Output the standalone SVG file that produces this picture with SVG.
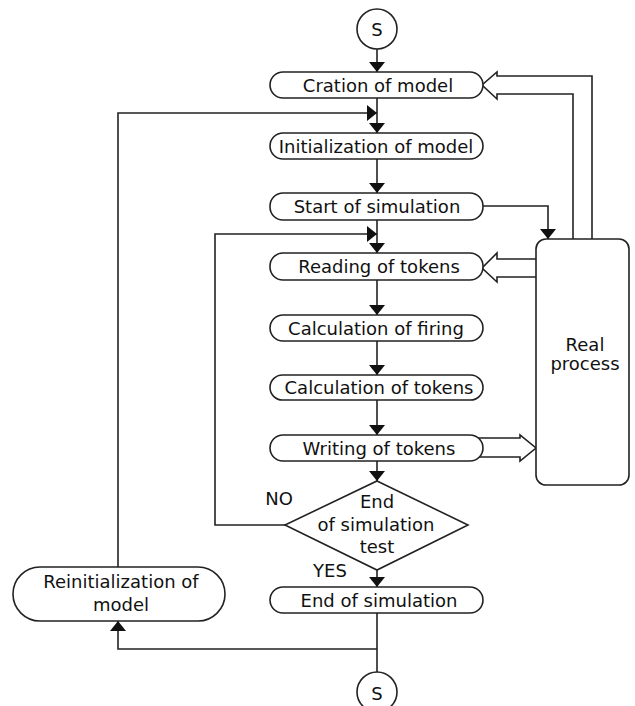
<svg xmlns="http://www.w3.org/2000/svg" width="635" height="706" viewBox="0 0 635 706">
<style>
.ln{fill:none;stroke:#222;stroke-width:1.6}
.bx{fill:#fff;stroke:#222;stroke-width:1.6}
.t{font-family:"DejaVu Sans",sans-serif;font-size:18px;fill:#111;text-anchor:middle}
</style>
<defs>
<marker id="ah" markerUnits="userSpaceOnUse" viewBox="0 0 10 16" refX="10" refY="8" markerWidth="10" markerHeight="16" orient="auto">
<path d="M0,0 L10,8 L0,16 z" fill="#111"/>
</marker>
</defs>
<rect width="635" height="706" fill="#fff"/>
<g id="connectors">
<path class="ln" d="M377,49 V72" marker-end="url(#ah)"/>
<path class="ln" d="M377,98 V133" marker-end="url(#ah)"/>
<path class="ln" d="M118,567 V113 H377" marker-end="url(#ah)"/>
<path class="ln" d="M377,159 V193" marker-end="url(#ah)"/>
<path class="ln" d="M377,220 V253" marker-end="url(#ah)"/>
<path class="ln" d="M285,525 H215 V234 H377" marker-end="url(#ah)"/>
<path class="ln" d="M482,206 H548 V239" marker-end="url(#ah)"/>
<path class="ln" d="M377,280 V315" marker-end="url(#ah)"/>
<path class="ln" d="M377,341 V375" marker-end="url(#ah)"/>
<path class="ln" d="M377,400 V435" marker-end="url(#ah)"/>
<path class="ln" d="M377,461 V481" marker-end="url(#ah)"/>
<path class="ln" d="M377,570 V587" marker-end="url(#ah)"/>
<path class="ln" d="M377,613 V672"/>
<path class="ln" d="M377,649 H118 V621" marker-end="url(#ah)"/>
<path class="ln" d="M573,239 V94 H497 V99 L482,85 L497,72 V76 H592 V239"/>
<path class="ln" d="M536,259 H497 V253 L482,268 L497,282 V277 H536"/>
<path class="ln" d="M470,438 H520 V435 L536,448 L520,461 V457 H470"/>
</g>
<g id="start">
<circle class="bx" cx="377" cy="29" r="20"/>
<text class="t" x="377" y="36">S</text>
</g>
<g id="creation">
<rect class="bx" x="270" y="72" width="213" height="26" rx="13"/>
<text class="t" x="378" y="92">Cration of model</text>
</g>
<g id="initialization">
<rect class="bx" x="270" y="133" width="213" height="26" rx="13"/>
<text class="t" x="376" y="153">Initialization of model</text>
</g>
<g id="start-sim">
<rect class="bx" x="270" y="193" width="213" height="27" rx="13"/>
<text class="t" x="377" y="213">Start of simulation</text>
</g>
<g id="reading">
<rect class="bx" x="270" y="253" width="213" height="27" rx="13"/>
<text class="t" x="379" y="273">Reading of tokens</text>
</g>
<g id="calc-firing">
<rect class="bx" x="270" y="315" width="213" height="26" rx="13"/>
<text class="t" x="376" y="335">Calculation of firing</text>
</g>
<g id="calc-tokens">
<rect class="bx" x="270" y="375" width="213" height="25" rx="12.5"/>
<text class="t" x="379" y="394">Calculation of tokens</text>
</g>
<g id="writing">
<rect class="bx" x="270" y="435" width="213" height="26" rx="13"/>
<text class="t" x="379" y="455">Writing of tokens</text>
</g>
<g id="test">
<polygon class="bx" points="377,481 468,525 377,570 285,525"/>
<text class="t" x="377" y="508">End</text>
<text class="t" x="376" y="531">of simulation</text>
<text class="t" x="377" y="553">test</text>
</g>
<text class="t" x="279" y="505">NO</text>
<text class="t" x="330" y="577">YES</text>
<g id="end-sim">
<rect class="bx" x="270" y="587" width="213" height="26" rx="13"/>
<text class="t" x="379" y="607">End of simulation</text>
</g>
<g id="reinit">
<rect class="bx" x="13" y="567" width="212" height="54" rx="27"/>
<text class="t" x="121" y="588">Reinitialization of</text>
<text class="t" x="121" y="611">model</text>
</g>
<g id="real-process">
<rect class="bx" x="536" y="239" width="93" height="246" rx="10"/>
<text class="t" x="585" y="351">Real</text>
<text class="t" x="585" y="370">process</text>
</g>
<g id="end">
<circle class="bx" cx="377" cy="692" r="20"/>
<text class="t" x="377" y="700">S</text>
</g>
</svg>
